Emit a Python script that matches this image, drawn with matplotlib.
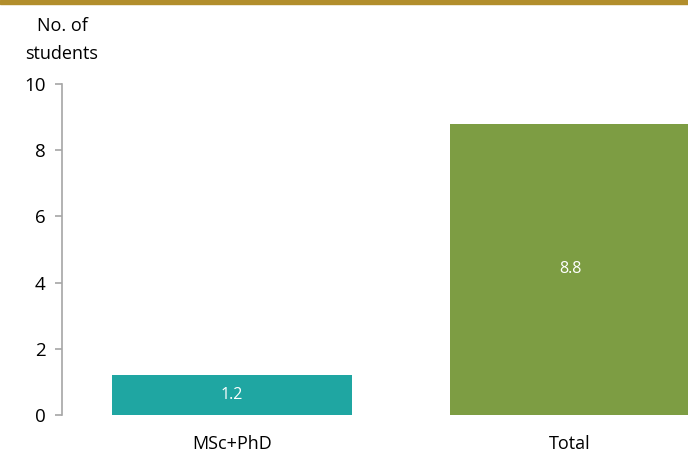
import matplotlib
matplotlib.use("Agg")
import matplotlib.pyplot as plt
from matplotlib.patches import Rectangle

categories = ["MSc+PhD", "Total"]
values = [1.2, 8.8]
colors = ["#1FA6A2", "#7D9D43"]
yticks = [0, 2, 4, 6, 8, 10]

plt.rcParams['font.family'] = ['Open Sans', 'DejaVu Sans']

W, H = 688, 455
fig = plt.figure(figsize=(W/100, H/100), dpi=100)
# axes: left spine at x=62, y range 0 at 415px, 10 at 84px
ax = fig.add_axes([62/W, (H-415)/H, (W-62)/W, (415-84)/H])

x = list(range(len(categories)))
bars = ax.bar(x, values, width=0.71, color=colors)
for b, v in zip(bars, values):
    ax.text(b.get_x() + b.get_width()/2, v/2, f"{v:.1f}", ha="center", va="center",
            color="white", fontsize=11.5)

ax.set_xlim(-0.503, 1.349)
ax.set_ylim(0, 10)
ax.set_yticks(yticks)
ax.set_yticklabels([str(t) for t in yticks], fontsize=13.5)
ax.set_xticks(x)
ax.set_xticklabels(categories, fontsize=13)
ax.tick_params(axis='x', length=0, pad=14.5)
ax.tick_params(axis='y', length=5, color="#A6A6A6", width=1.2, pad=7)
for s in ["top", "right", "bottom"]:
    ax.spines[s].set_visible(False)
ax.spines["left"].set_color("#A6A6A6")
ax.spines["left"].set_linewidth(1.2)

fig.text(62/W, 1 - 40/H, "No. of\nstudents", ha="center", va="center", fontsize=13,
         linespacing=1.75)

# gold header band at top
fig.patches.append(Rectangle((0, 1 - 4/H), 1, 4/H, transform=fig.transFigure,
                             color="#B28E2C", zorder=10))

fig.savefig("out.png", dpi=100)
